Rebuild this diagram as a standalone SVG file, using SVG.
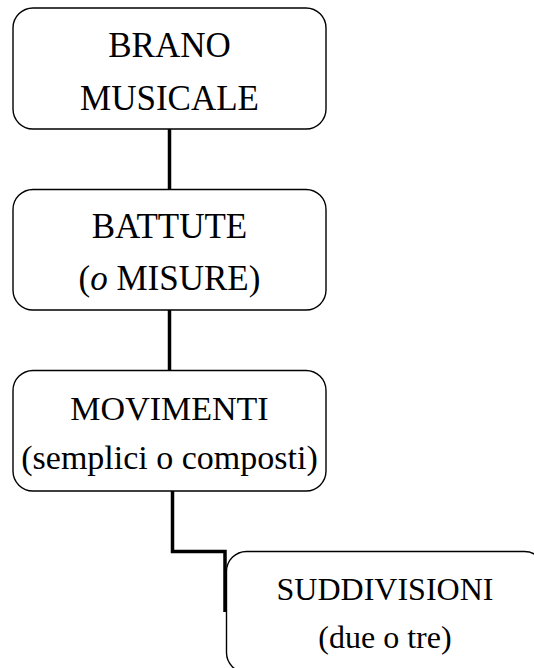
<svg xmlns="http://www.w3.org/2000/svg" width="534" height="668" viewBox="0 0 534 668">
<style>
.box{fill:#fff;stroke:#000;stroke-width:1.4}
.t{font-family:'Liberation Serif','DejaVu Serif',serif;fill:#000;text-anchor:middle}
.conn{fill:none;stroke:#000;stroke-width:3.5}
</style>
<rect width="534" height="668" fill="#fff"/>
<g id="connectors">
<line class="conn" x1="169.5" y1="129" x2="169.5" y2="190"/>
<line class="conn" x1="169.5" y1="310" x2="169.5" y2="371"/>
<path class="conn" d="M172.5 491 V551.5 H225 V612"/>
</g>
<g id="brano">
<rect class="box" x="13" y="8" width="313" height="121" rx="20"/>
<text class="t" x="169.5" y="57" font-size="35">BRANO</text>
<text class="t" x="169.5" y="110" font-size="35">MUSICALE</text>
</g>
<g id="battute">
<rect class="box" x="13" y="189.5" width="313" height="120.5" rx="20"/>
<text class="t" x="169.5" y="238" font-size="35">BATTUTE</text>
<text class="t" x="169.5" y="290" font-size="35">(<tspan font-style="italic">o</tspan> MISURE)</text>
</g>
<g id="movimenti">
<rect class="box" x="13" y="370.5" width="313" height="120.5" rx="20"/>
<text class="t" x="169.5" y="420" font-size="34">MOVIMENTI</text>
<text class="t" x="169.5" y="469" font-size="34">(semplici o composti)</text>
</g>
<g id="suddivisioni">
<rect class="box" x="226.5" y="551.5" width="318" height="121" rx="20"/>
<text class="t" x="385" y="600" font-size="32">SUDDIVISIONI</text>
<text class="t" x="385" y="648" font-size="32">(due o tre)</text>
</g>
</svg>
